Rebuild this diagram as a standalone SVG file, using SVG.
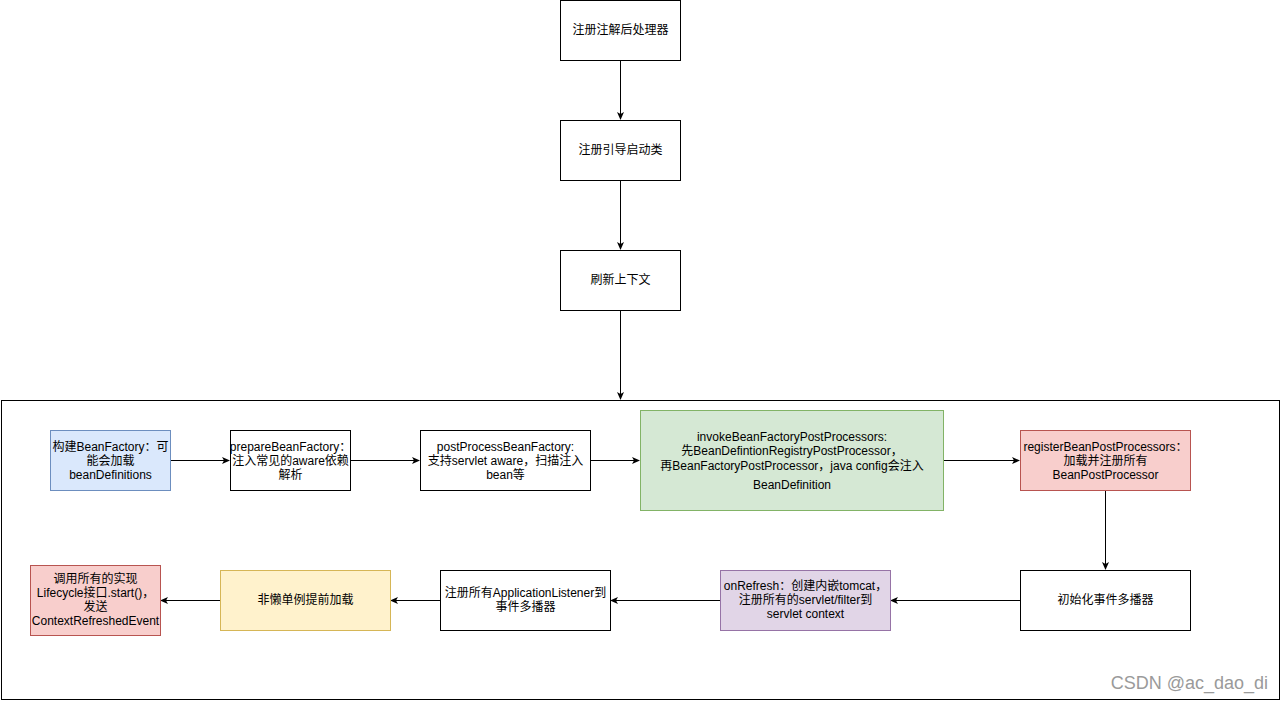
<svg xmlns="http://www.w3.org/2000/svg" width="1281" height="701" viewBox="0 0 1281 701">
<style>
.n{stroke-width:1}
.w{fill:#ffffff;stroke:#000000}
.blue{fill:#dae8fc;stroke:#6c8ebf}
.green{fill:#d5e8d4;stroke:#82b366}
.red{fill:#f8cecc;stroke:#b85450}
.purple{fill:#e1d5e7;stroke:#9673a6}
.yellow{fill:#fff2cc;stroke:#d6b656}
text{font-family:"Liberation Sans","Noto Sans CJK SC",sans-serif;font-size:12px;fill:#000000;text-anchor:middle}
.e{stroke:#000000;stroke-width:1;fill:none;marker-end:url(#arr)}
.wm{font-size:18px;fill:#9a9a9a;text-anchor:end}
</style>
<defs>
<marker id="arr" markerWidth="10" markerHeight="10" refX="7" refY="3.5" orient="auto" markerUnits="userSpaceOnUse">
<path d="M0,0 L8,3.5 L0,7 L2,3.5 z" fill="#000000"/>
</marker>
</defs>
<rect width="1281" height="701" fill="#ffffff"/>
<g id="container"><rect x="1.5" y="400.5" width="1278" height="299" fill="none" stroke="#000000"/></g>
<g id="connectors">
<path class="e" d="M620.5,60 L620.5,119"/>
<path class="e" d="M620.5,180 L620.5,249"/>
<path class="e" d="M620.5,310 L620.5,399"/>
<path class="e" d="M170,460.5 L229,460.5"/>
<path class="e" d="M350,460.5 L419,460.5"/>
<path class="e" d="M590,460.5 L639,460.5"/>
<path class="e" d="M943,460.5 L1019,460.5"/>
<path class="e" d="M1105.5,490 L1105.5,569"/>
<path class="e" d="M1020,600.5 L891,600.5"/>
<path class="e" d="M720,600.5 L611,600.5"/>
<path class="e" d="M440,600.5 L391,600.5"/>
<path class="e" d="M220,600.5 L161,600.5"/>
</g>
<g id="n1"><rect class="w" x="560.5" y="0.5" width="120" height="60"/><text x="620.5" y="34">注册注解后处理器</text></g>
<g id="n2"><rect class="w" x="560.5" y="120.5" width="120" height="60"/><text x="620.5" y="154">注册引导启动类</text></g>
<g id="n3"><rect class="w" x="560.5" y="250.5" width="120" height="60"/><text x="620.5" y="284">刷新上下文</text></g>
<g id="nA"><rect class="blue" x="50.5" y="430.5" width="120" height="60"/><text x="110.5" y="451">构建BeanFactory：可</text><text x="110.5" y="465">能会加载</text><text x="110.5" y="479">beanDefinitions</text></g>
<g id="nB"><rect class="w" x="230.5" y="430.5" width="120" height="60"/><text x="290.5" y="451">prepareBeanFactory：</text><text x="290.5" y="465">注入常见的aware依赖</text><text x="290.5" y="479">解析</text></g>
<g id="nC"><rect class="w" x="420.5" y="430.5" width="170" height="60"/><text x="505.5" y="451">postProcessBeanFactory:</text><text x="505.5" y="465">支持servlet aware，扫描注入</text><text x="505.5" y="479">bean等</text></g>
<g id="nD"><rect class="green" x="640.5" y="410.5" width="303" height="100"/><text x="792" y="441">invokeBeanFactoryPostProcessors:</text><text x="792" y="455">先BeanDefintionRegistryPostProcessor，</text><text x="792" y="470">再BeanFactoryPostProcessor，java config会注入</text><text x="792" y="489">BeanDefinition</text></g>
<g id="nE"><rect class="red" x="1020.5" y="430.5" width="170" height="60"/><text x="1105.5" y="451">registerBeanPostProcessors：</text><text x="1105.5" y="465">加载并注册所有</text><text x="1105.5" y="479">BeanPostProcessor</text></g>
<g id="nF"><rect class="w" x="1020.5" y="570.5" width="170" height="60"/><text x="1105.5" y="604">初始化事件多播器</text></g>
<g id="nG"><rect class="purple" x="720.5" y="570.5" width="170" height="60"/><text x="805.5" y="590">onRefresh：创建内嵌tomcat，</text><text x="805.5" y="604">注册所有的servlet/filter到</text><text x="805.5" y="618">servlet context</text></g>
<g id="nH"><rect class="w" x="440.5" y="570.5" width="170" height="60"/><text x="525.5" y="597">注册所有ApplicationListener到</text><text x="525.5" y="611">事件多播器</text></g>
<g id="nI"><rect class="yellow" x="220.5" y="570.5" width="170" height="60"/><text x="305.5" y="604">非懒单例提前加载</text></g>
<g id="nJ"><rect class="red" x="30.5" y="565.5" width="130" height="70"/><text x="95.5" y="583">调用所有的实现</text><text x="95.5" y="597">Lifecycle接口.start()，</text><text x="95.5" y="611">发送</text><text x="95.5" y="625">ContextRefreshedEvent</text></g>
<text class="wm" x="1268" y="689">CSDN @ac_dao_di</text>
</svg>
